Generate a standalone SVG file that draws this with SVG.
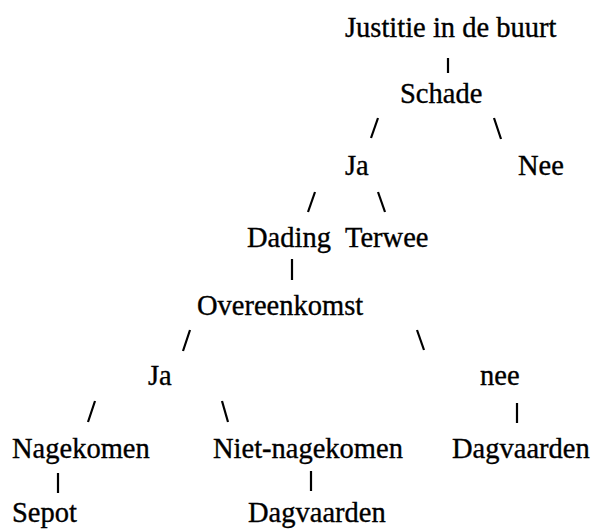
<svg xmlns="http://www.w3.org/2000/svg" width="594" height="529" viewBox="0 0 594 529">
<style>
.t{font-family:"Liberation Serif","Times New Roman",serif;font-size:28.5px;fill:#000;stroke:#000;stroke-width:0.35}
.c line{stroke:#000;stroke-width:2.2;stroke-linecap:butt}
</style>
<rect width="594" height="529" fill="#fff"/>
<g class="c" id="connectors">
<line x1="448" y1="58" x2="448" y2="73"/>
<line x1="378" y1="118" x2="371" y2="138"/>
<line x1="494" y1="118" x2="501" y2="139"/>
<line x1="315" y1="192" x2="308" y2="212"/>
<line x1="378" y1="192" x2="385" y2="212"/>
<line x1="292" y1="259" x2="292" y2="280"/>
<line x1="190" y1="330" x2="183" y2="351"/>
<line x1="417" y1="330" x2="424" y2="350"/>
<line x1="95" y1="401" x2="88" y2="422"/>
<line x1="222" y1="401" x2="228" y2="422"/>
<line x1="517" y1="403" x2="517" y2="423"/>
<line x1="58" y1="473" x2="58" y2="493"/>
<line x1="311" y1="471" x2="311" y2="491"/>
</g>
<g id="n-justitie"><text class="t" x="345" y="37">Justitie in de buurt</text></g>
<g id="n-schade"><text class="t" x="400" y="103">Schade</text></g>
<g id="n-ja1"><text class="t" x="345" y="175">Ja</text></g>
<g id="n-nee1"><text class="t" x="518" y="175">Nee</text></g>
<g id="n-dading"><text class="t" x="247" y="247">Dading</text></g>
<g id="n-terwee"><text class="t" x="345" y="247">Terwee</text></g>
<g id="n-overeenkomst"><text class="t" x="197" y="315">Overeenkomst</text></g>
<g id="n-ja2"><text class="t" x="148" y="385">Ja</text></g>
<g id="n-nee2"><text class="t" x="480" y="385">nee</text></g>
<g id="n-nagekomen"><text class="t" x="12" y="458">Nagekomen</text></g>
<g id="n-nietnagekomen"><text class="t" x="213" y="458">Niet-nagekomen</text></g>
<g id="n-dagvaarden1"><text class="t" x="452" y="458">Dagvaarden</text></g>
<g id="n-sepot"><text class="t" x="12" y="522">Sepot</text></g>
<g id="n-dagvaarden2"><text class="t" x="248" y="522">Dagvaarden</text></g>
</svg>
